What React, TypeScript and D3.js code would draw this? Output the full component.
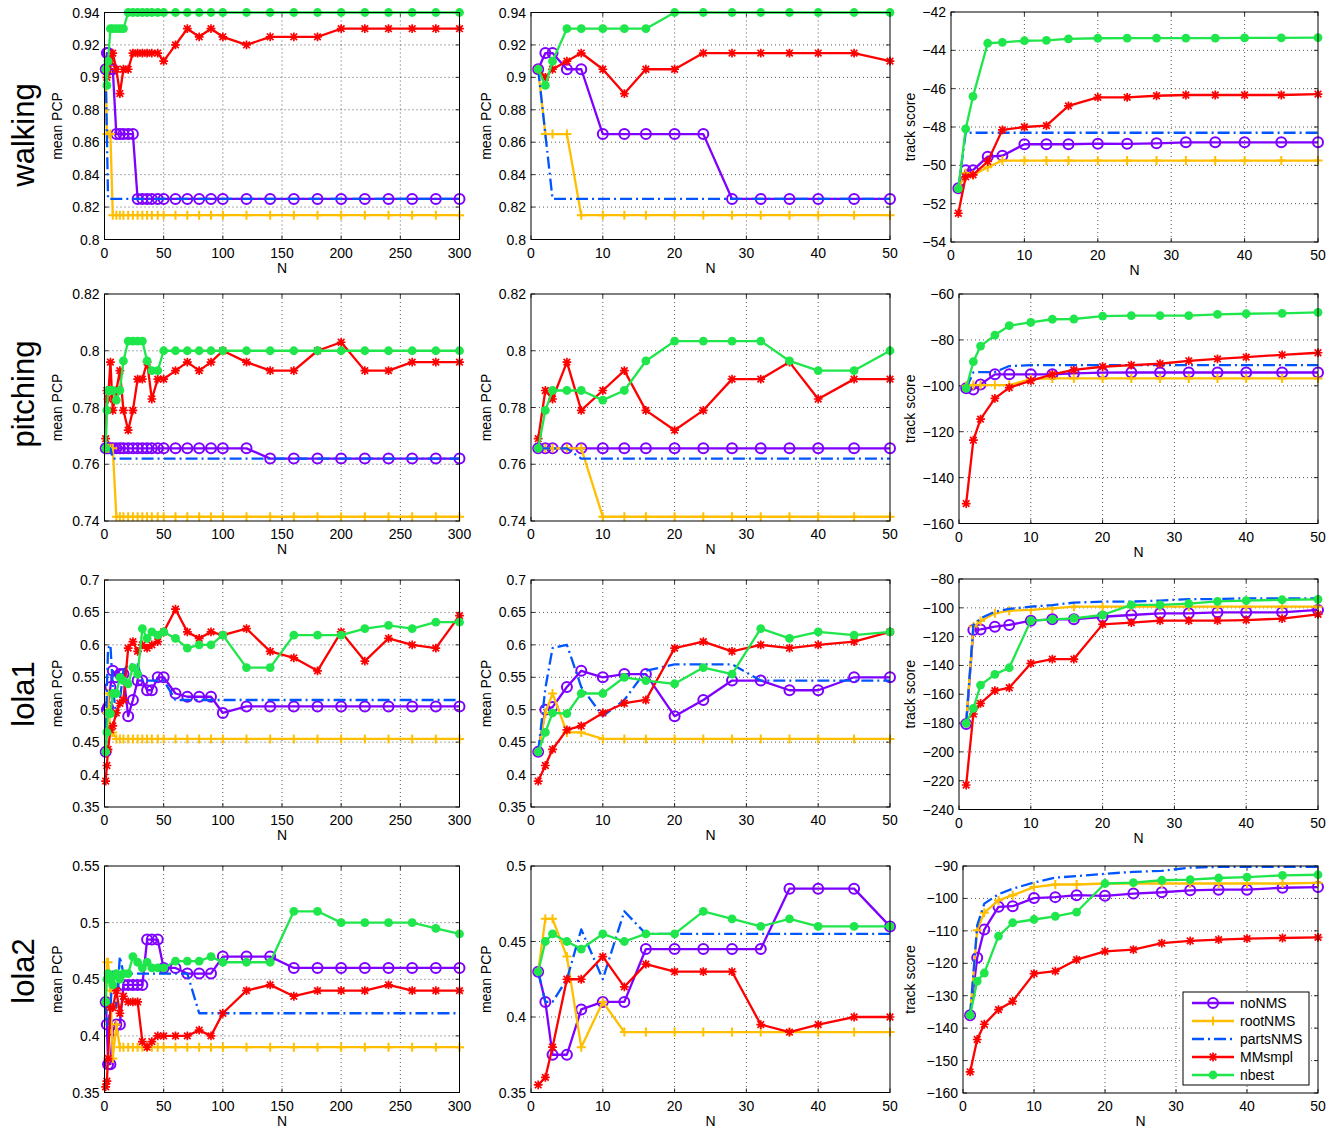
import React, { useEffect, useRef } from 'react';
import * as d3 from 'd3';

// sample sizes N (left column uses all of them, middle/right columns the first 16)
const N_ALL = [1, 2, 3, 5, 7, 10, 13, 16, 20, 24, 28, 32, 36, 40, 45, 50, 60, 70, 80, 90, 100, 120, 140, 160, 180, 200, 220, 240, 260, 280, 300];
const N_ZOOM = N_ALL.slice(0, 16);

const SERIES = ['noNMS', 'rootNMS', 'partsNMS', 'MMsmpl', 'nbest'];
const COLORS = ['#7f00ff', '#ffbf00', '#0055ff', '#ff0000', '#1ee64b'];
const MARKERS = ['circle', 'plus', 'none', 'star', 'dot'];

// mean PCP, series order as SERIES
const walkingPcp = [
  [0.905, 0.915, 0.915, 0.905, 0.905, 0.865, 0.865, 0.865, 0.865, 0.865, 0.825, 0.825, 0.825, 0.825, 0.825, 0.825,
    0.825, 0.825, 0.825, 0.825, 0.825, 0.825, 0.825, 0.825, 0.825, 0.825, 0.825, 0.825, 0.825, 0.825, 0.825],
  [0.905, 0.865, 0.865, 0.865, 0.815, 0.815, 0.815, 0.815, 0.815, 0.815, 0.815, 0.815, 0.815, 0.815, 0.815, 0.815,
    0.815, 0.815, 0.815, 0.815, 0.815, 0.815, 0.815, 0.815, 0.815, 0.815, 0.815, 0.815, 0.815, 0.815, 0.815],
  [0.905, 0.865, 0.825, 0.825, 0.825, 0.825, 0.825, 0.825, 0.825, 0.825, 0.825, 0.825, 0.825, 0.825, 0.825, 0.825,
    0.825, 0.825, 0.825, 0.825, 0.825, 0.825, 0.825, 0.825, 0.825, 0.825, 0.825, 0.825, 0.825, 0.825, 0.825],
  [0.905, 0.9, 0.905, 0.91, 0.915, 0.905, 0.89, 0.905, 0.905, 0.915, 0.915, 0.915, 0.915, 0.915, 0.915, 0.91,
    0.92, 0.93, 0.925, 0.93, 0.925, 0.92, 0.925, 0.925, 0.925, 0.93, 0.93, 0.93, 0.93, 0.93, 0.93],
  [0.905, 0.895, 0.91, 0.93, 0.93, 0.93, 0.93, 0.93, 0.94, 0.94, 0.94, 0.94, 0.94, 0.94, 0.94, 0.94,
    0.94, 0.94, 0.94, 0.94, 0.94, 0.94, 0.94, 0.94, 0.94, 0.94, 0.94, 0.94, 0.94, 0.94, 0.94],
];

const pitchingPcp = [
  [0.7656, 0.7656, 0.7656, 0.7656, 0.7656, 0.7656, 0.7656, 0.7656, 0.7656, 0.7656, 0.7656, 0.7656, 0.7656, 0.7656, 0.7656, 0.7656,
    0.7656, 0.7656, 0.7656, 0.7656, 0.7656, 0.7656, 0.762, 0.762, 0.762, 0.762, 0.762, 0.762, 0.762, 0.762, 0.762],
  [0.7656, 0.7656, 0.7656, 0.7656, 0.7656, 0.7415, 0.7415, 0.7415, 0.7415, 0.7415, 0.7415, 0.7415, 0.7415, 0.7415, 0.7415, 0.7415,
    0.7415, 0.7415, 0.7415, 0.7415, 0.7415, 0.7415, 0.7415, 0.7415, 0.7415, 0.7415, 0.7415, 0.7415, 0.7415, 0.7415, 0.7415],
  [0.7656, 0.7656, 0.7656, 0.7656, 0.762, 0.762, 0.762, 0.762, 0.762, 0.762, 0.762, 0.762, 0.762, 0.762, 0.762, 0.762,
    0.762, 0.762, 0.762, 0.762, 0.762, 0.762, 0.762, 0.762, 0.762, 0.762, 0.762, 0.762, 0.762, 0.762, 0.762],
  [0.769, 0.786, 0.783, 0.796, 0.779, 0.786, 0.793, 0.779, 0.772, 0.779, 0.79, 0.79, 0.796, 0.783, 0.79, 0.79,
    0.793, 0.796, 0.793, 0.796, 0.8, 0.796, 0.793, 0.793, 0.8, 0.803, 0.793, 0.793, 0.796, 0.796, 0.796],
  [0.7656, 0.779, 0.786, 0.786, 0.786, 0.7826, 0.786, 0.7964, 0.8034, 0.8034, 0.8034, 0.8034, 0.7964, 0.793, 0.793, 0.8,
    0.8, 0.8, 0.8, 0.8, 0.8, 0.8, 0.8, 0.8, 0.8, 0.8, 0.8, 0.8, 0.8, 0.8, 0.8],
];

const lola1Pcp = [
  [0.435, 0.5, 0.504, 0.535, 0.56, 0.55, 0.555, 0.555, 0.49, 0.515, 0.545, 0.545, 0.53, 0.53, 0.55, 0.55,
    0.525, 0.52, 0.52, 0.52, 0.495, 0.505, 0.505, 0.505, 0.505, 0.505, 0.505, 0.505, 0.505, 0.505, 0.505],
  [0.435, 0.495, 0.525, 0.465, 0.465, 0.455, 0.455, 0.455, 0.455, 0.455, 0.455, 0.455, 0.455, 0.455, 0.455, 0.455,
    0.455, 0.455, 0.455, 0.455, 0.455, 0.455, 0.455, 0.455, 0.455, 0.455, 0.455, 0.455, 0.455, 0.455, 0.455],
  [0.435, 0.533, 0.595, 0.6, 0.535, 0.49, 0.515, 0.56, 0.57, 0.57, 0.57, 0.545, 0.545, 0.545, 0.545, 0.545,
    0.515, 0.515, 0.515, 0.515, 0.515, 0.515, 0.515, 0.515, 0.515, 0.515, 0.515, 0.515, 0.515, 0.515, 0.515],
  [0.39, 0.414, 0.439, 0.469, 0.475, 0.495, 0.51, 0.515, 0.595, 0.605, 0.59, 0.6, 0.595, 0.6, 0.605, 0.62,
    0.655, 0.62, 0.61, 0.62, 0.615, 0.625, 0.59, 0.58, 0.56, 0.62, 0.575, 0.61, 0.6, 0.595, 0.645],
  [0.435, 0.465, 0.495, 0.494, 0.525, 0.525, 0.55, 0.545, 0.54, 0.565, 0.555, 0.625, 0.61, 0.62, 0.615, 0.62,
    0.61, 0.595, 0.6, 0.6, 0.615, 0.565, 0.565, 0.615, 0.615, 0.615, 0.625, 0.63, 0.625, 0.635, 0.635],
];

const lola2Pcp = [
  [0.43, 0.41, 0.375, 0.375, 0.405, 0.41, 0.41, 0.445, 0.445, 0.445, 0.445, 0.445, 0.485, 0.485, 0.485, 0.46,
    0.46, 0.455, 0.455, 0.455, 0.47, 0.47, 0.47, 0.46, 0.46, 0.46, 0.46, 0.46, 0.46, 0.46, 0.46],
  [0.43, 0.465, 0.465, 0.44, 0.38, 0.41, 0.39, 0.39, 0.39, 0.39, 0.39, 0.39, 0.39, 0.39, 0.39, 0.39,
    0.39, 0.39, 0.39, 0.39, 0.39, 0.39, 0.39, 0.39, 0.39, 0.39, 0.39, 0.39, 0.39, 0.39, 0.39],
  [0.43, 0.41, 0.41, 0.425, 0.458, 0.425, 0.47, 0.455, 0.455, 0.455, 0.455, 0.455, 0.455, 0.455, 0.455, 0.455,
    0.455, 0.455, 0.42, 0.42, 0.42, 0.42, 0.42, 0.42, 0.42, 0.42, 0.42, 0.42, 0.42, 0.42, 0.42],
  [0.355, 0.36, 0.38, 0.425, 0.425, 0.44, 0.42, 0.435, 0.43, 0.43, 0.43, 0.395, 0.39, 0.395, 0.4, 0.4,
    0.4, 0.4, 0.405, 0.4, 0.42, 0.44, 0.445, 0.435, 0.44, 0.44, 0.44, 0.445, 0.44, 0.44, 0.44],
  [0.43, 0.45, 0.455, 0.45, 0.445, 0.455, 0.45, 0.455, 0.455, 0.47, 0.465, 0.46, 0.465, 0.46, 0.46, 0.46,
    0.466, 0.466, 0.466, 0.47, 0.465, 0.465, 0.465, 0.51, 0.51, 0.5, 0.5, 0.5, 0.5, 0.495, 0.49],
];

// track score, N = N_ZOOM
const walkingTrack = [
  [-51.2, -50.25, -50.25, -49.55, -49.5, -48.9, -48.9, -48.9, -48.87, -48.88, -48.85, -48.8, -48.8, -48.8, -48.8, -48.8],
  [-51.2, -50.4, -50.5, -50.1, -49.75, -49.75, -49.75, -49.75, -49.75, -49.75, -49.75, -49.75, -49.75, -49.75, -49.75, -49.75],
  [-51.2, -48.3, -48.3, -48.3, -48.3, -48.3, -48.3, -48.3, -48.3, -48.3, -48.3, -48.3, -48.3, -48.3, -48.3, -48.3],
  [-52.5, -50.6, -50.5, -49.8, -48.15, -48.0, -47.93, -46.9, -46.45, -46.45, -46.37, -46.33, -46.33, -46.33, -46.33, -46.28],
  [-51.22, -48.1, -46.4, -43.63, -43.58, -43.5, -43.48, -43.4, -43.37, -43.36, -43.36, -43.36, -43.36, -43.35, -43.35, -43.34],
];

const pitchingTrack = [
  [-101.1, -101.6, -99.4, -95, -95, -95, -95, -94.6, -94.3, -94.2, -94.2, -94.2, -94.2, -94.2, -94.2, -94.2],
  [-100, -99.7, -99.7, -99.7, -99.7, -97.1, -96.8, -96.8, -96.8, -96.8, -96.8, -96.8, -96.8, -96.8, -96.8, -96.8],
  [-101, -94.2, -94, -94, -91.4, -91, -91, -91, -91, -91, -91, -91, -91, -91, -91, -91],
  [-151.3, -123.7, -114.5, -105.5, -100.8, -97.8, -95, -93.1, -91.7, -91, -90.4, -89.1, -88.3, -87.5, -86.5, -85.6],
  [-101.1, -89.5, -82.7, -77.9, -73.8, -72.4, -71, -70.9, -69.6, -69.4, -69.4, -69.4, -68.9, -68.6, -68.4, -68],
];

const lola1Track = [
  [-180.7, -115.4, -115, -113.1, -111.9, -108.9, -108, -108, -106.2, -105, -103.8, -103.8, -103.1, -103.1, -103.1, -101.5],
  [-180, -113, -109.2, -103.8, -102, -101.5, -100.4, -99.2, -99.2, -99.2, -99.2, -99.2, -99.2, -99.2, -99.2, -99.2],
  [-180, -112, -107.3, -102.7, -100.8, -99.2, -98.1, -96.4, -95.7, -95.7, -95, -93.9, -93.9, -93.4, -93.4, -93.4],
  [-223, -173.7, -166.3, -157.5, -155.5, -138.6, -135.6, -135.6, -111.5, -110.3, -108.9, -108.9, -108.9, -108.5, -107.5, -104.5],
  [-180.2, -169.8, -153.6, -146.2, -141.6, -108.9, -108, -107.3, -105, -98, -98, -97.1, -95.5, -95, -94.4, -94.1],
];

const lola2Track = [
  [-136, -118.3, -109.6, -102.6, -102.4, -99.9, -99.6, -99, -99.2, -98.5, -98.1, -97.5, -97.3, -97.3, -96.7, -96.5],
  [-136, -109.8, -104.4, -100.6, -99, -96.5, -95.7, -95.7, -95.4, -95.4, -95.4, -95.4, -95.4, -95.4, -95.4, -95.2],
  [-136, -108.3, -101.6, -98.7, -97, -95.1, -93.6, -93.1, -92.4, -91.8, -91.5, -90.5, -90.3, -90.3, -90.3, -90.3],
  [-153.5, -143.5, -138.8, -134.3, -131.7, -123.2, -122.4, -118.9, -116.3, -115.8, -113.8, -113.1, -112.7, -112.4, -112.2, -112],
  [-136, -125.5, -123, -111.6, -107.5, -106.5, -105.5, -104.2, -95.4, -95.1, -94.4, -94.2, -93.7, -93.4, -92.9, -92.7],
];

const ROW_NAMES = ['walking', 'pitching', 'lola1', 'lola2'];
const PCP_DATA = [walkingPcp, pitchingPcp, lola1Pcp, lola2Pcp];
const TRACK_DATA = [walkingTrack, pitchingTrack, lola1Track, lola2Track];

// y ranges: [left column, middle column, right column], with tick steps
const Y_DOMAINS = [
  [[0.8, 0.94], [0.8, 0.94], [-54, -42]],
  [[0.74, 0.82], [0.74, 0.82], [-160, -60]],
  [[0.35, 0.7], [0.35, 0.7], [-240, -80]],
  [[0.35, 0.55], [0.35, 0.5], [-160, -90]],
];
const Y_STEPS = [[0.02, 0.02, 2], [0.02, 0.02, 20], [0.05, 0.05, 20], [0.05, 0.05, 10]];

// layout
const ROW_Y = [[12.5, 239.5], [294, 521], [580, 807], [866, 1092.5]];
const ROW_Y_RIGHT = [[12, 242], [294, 523.5], [579, 809.5], [866, 1093]];
const COL_X = [[104.5, 459.5], [531, 890]];
const RIGHT_X0 = [951, 959, 959, 963];
const RIGHT_X1 = 1318;
const ROW_LABEL_Y = [135, 394, 694, 971];
const YLABEL_X = [62, 491, 915];

const FONT = "'Liberation Sans', Arial, Helvetica, sans-serif";
const LW = 2.3;

const fmt = (v: number) => {
  const s = String(Math.abs(+v.toFixed(4)));
  return v < 0 ? '\u2212' + s : s;
};

function markerPath(kind: string, px: number, py: number) {
  if (kind === 'plus') return `M${px - 4.5},${py}h9M${px},${py - 4.5}v9`;
  if (kind === 'star') {
    const a = 3.3;
    return `M${px - 4.4},${py}h8.8M${px},${py - 4.4}v8.8M${px - a},${py - a}l${2 * a},${2 * a}M${px - a},${py + a}l${2 * a},${-2 * a}`;
  }
  return '';
}

function drawMarkers(g: any, kind: string, pts: [number, number][], color: string) {
  if (kind === 'circle') {
    g.append('g').selectAll('circle').data(pts).join('circle')
      .attr('cx', (d: any) => d[0]).attr('cy', (d: any) => d[1]).attr('r', 5)
      .attr('fill', 'none').attr('stroke', color).attr('stroke-width', 2);
  } else if (kind === 'dot') {
    g.append('g').selectAll('circle').data(pts).join('circle')
      .attr('cx', (d: any) => d[0]).attr('cy', (d: any) => d[1]).attr('r', 4.4)
      .attr('fill', color);
  } else if (kind === 'plus' || kind === 'star') {
    g.append('path')
      .attr('d', pts.map(p => markerPath(kind, p[0], p[1])).join(''))
      .attr('stroke', color).attr('stroke-width', kind === 'star' ? 1.7 : 2).attr('fill', 'none');
  }
}

function drawPanel(svg: any, box: number[], xDomain: number[], xStep: number, yDomain: number[], yStep: number,
  ns: number[], data: number[][], yLabel: string, yLabelX: number) {
  const [x0, x1, y0, y1] = box;
  const x = d3.scaleLinear().domain(xDomain).range([x0, x1]);
  const y = d3.scaleLinear().domain(yDomain).range([y1, y0]);
  const xt = d3.range(0, Math.round((xDomain[1] - xDomain[0]) / xStep) + 1).map(i => xDomain[0] + i * xStep);
  const yt = d3.range(0, Math.round((yDomain[1] - yDomain[0]) / yStep) + 1).map(i => +(yDomain[0] + i * yStep).toFixed(4));

  const g = svg.append('g');
  g.append('rect').attr('x', x0).attr('y', y0).attr('width', x1 - x0).attr('height', y1 - y0).attr('fill', '#fff');

  // grid
  g.append('g').selectAll('line').data(xt.slice(1, -1)).join('line')
    .attr('x1', (d: number) => x(d)).attr('x2', (d: number) => x(d)).attr('y1', y0).attr('y2', y1)
    .attr('stroke', '#333').attr('stroke-width', 0.8).attr('stroke-dasharray', '1,3');
  g.append('g').selectAll('line').data(yt.slice(1, -1)).join('line')
    .attr('y1', (d: number) => y(d)).attr('y2', (d: number) => y(d)).attr('x1', x0).attr('x2', x1)
    .attr('stroke', '#333').attr('stroke-width', 0.8).attr('stroke-dasharray', '1,3');

  // small inward ticks
  g.append('path')
    .attr('d', xt.map(t => `M${x(t)},${y1}v-4M${x(t)},${y0}v4`).join('') + yt.map(t => `M${x0},${y(t)}h4M${x1},${y(t)}h-4`).join(''))
    .attr('stroke', '#000').attr('stroke-width', 0.8);

  // tick labels
  g.append('g').selectAll('text').data(xt).join('text')
    .attr('x', (d: number) => x(d)).attr('y', y1 + 18).attr('text-anchor', 'middle')
    .attr('font-size', 14).attr('font-family', FONT).text((d: number) => fmt(d));
  g.append('g').selectAll('text').data(yt).join('text')
    .attr('x', x0 - 5).attr('y', (d: number) => y(d)).attr('dy', '0.36em').attr('text-anchor', 'end')
    .attr('font-size', 14).attr('font-family', FONT).text((d: number) => fmt(d));

  g.append('text').attr('x', (x0 + x1) / 2).attr('y', y1 + 33).attr('text-anchor', 'middle')
    .attr('font-size', 14).attr('font-family', FONT).text('N');
  g.append('text').attr('transform', `translate(${yLabelX},${(y0 + y1) / 2}) rotate(-90)`)
    .attr('text-anchor', 'middle').attr('font-size', 14).attr('font-family', FONT).text(yLabel);

  // series
  const line = d3.line<[number, number]>().x(d => d[0]).y(d => d[1]);
  data.forEach((vals, si) => {
    const pts: [number, number][] = ns.map((n, i) => [x(n), y(vals[i])]);
    g.append('path').attr('d', line(pts)).attr('fill', 'none')
      .attr('stroke', COLORS[si]).attr('stroke-width', LW).attr('stroke-linejoin', 'round')
      .attr('stroke-dasharray', SERIES[si] === 'partsNMS' ? '12,4,2,4' : null);
    drawMarkers(g, MARKERS[si], pts, COLORS[si]);
  });

  g.append('rect').attr('x', x0).attr('y', y0).attr('width', x1 - x0).attr('height', y1 - y0)
    .attr('fill', 'none').attr('stroke', '#000').attr('stroke-width', 1);
}

export default function App() {
  const ref = useRef<SVGSVGElement>(null);

  useEffect(() => {
    const svg = d3.select(ref.current);
    svg.selectAll('*').remove();

    ROW_NAMES.forEach((name, r) => {
      const pcp = PCP_DATA[r];
      drawPanel(svg, [COL_X[0][0], COL_X[0][1], ROW_Y[r][0], ROW_Y[r][1]], [0, 300], 50,
        Y_DOMAINS[r][0], Y_STEPS[r][0], N_ALL, pcp, 'mean PCP', YLABEL_X[0]);
      drawPanel(svg, [COL_X[1][0], COL_X[1][1], ROW_Y[r][0], ROW_Y[r][1]], [0, 50], 10,
        Y_DOMAINS[r][1], Y_STEPS[r][1], N_ZOOM, pcp.map(s => s.slice(0, 16)), 'mean PCP', YLABEL_X[1]);
      drawPanel(svg, [RIGHT_X0[r], RIGHT_X1, ROW_Y_RIGHT[r][0], ROW_Y_RIGHT[r][1]], [0, 50], 10,
        Y_DOMAINS[r][2], Y_STEPS[r][2], N_ZOOM, TRACK_DATA[r], 'track score', YLABEL_X[2]);

      svg.append('text').attr('transform', `translate(34,${ROW_LABEL_Y[r]}) rotate(-90)`)
        .attr('text-anchor', 'middle').attr('font-size', 31).attr('font-family', FONT).text(name);
    });

    // legend in the lower right panel
    const lg = svg.append('g').attr('transform', 'translate(1183,992)');
    lg.append('rect').attr('width', 126).attr('height', 93).attr('fill', '#fff').attr('stroke', '#000').attr('stroke-width', 1);
    SERIES.forEach((s, i) => {
      const ly = 11 + i * 18;
      lg.append('line').attr('x1', 9).attr('x2', 51).attr('y1', ly).attr('y2', ly)
        .attr('stroke', COLORS[i]).attr('stroke-width', LW)
        .attr('stroke-dasharray', s === 'partsNMS' ? '12,4,2,4' : null);
      drawMarkers(lg, MARKERS[i], [[30, ly]], COLORS[i]);
      lg.append('text').attr('x', 57).attr('y', ly).attr('dy', '0.36em')
        .attr('font-size', 14).attr('font-family', FONT).text(s);
    });
  }, []);

  return (
    <div style={{ position: 'absolute', left: 0, top: 0, background: '#fff' }}>
      <svg ref={ref} width={1336} height={1129} style={{ display: 'block' }} />
    </div>
  );
}
